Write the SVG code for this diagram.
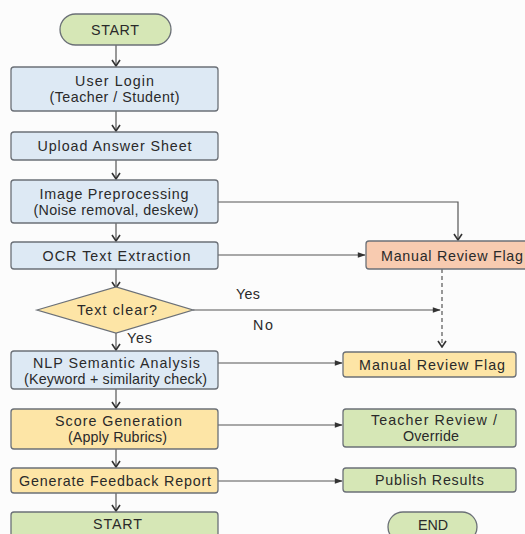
<svg xmlns="http://www.w3.org/2000/svg" width="525" height="534" viewBox="0 0 525 534">
<defs>
<marker id="chev" viewBox="0 0 10 10" refX="9" refY="5" markerWidth="10" markerHeight="10" markerUnits="userSpaceOnUse" orient="auto">
<path d="M3,1 L9,5 L3,9" fill="none" stroke="#333" stroke-width="1.6"/>
</marker>
<marker id="tri" viewBox="0 0 10 10" refX="9" refY="5" markerWidth="9" markerHeight="8" markerUnits="userSpaceOnUse" orient="auto">
<path d="M0,1.5 L10,5 L0,8.5 Z" fill="#333"/>
</marker>
<style>
.box{stroke:#6b7077;stroke-width:1.3}
.blue{fill:#dde9f4}
.yellow{fill:#fde5a6}
.green{fill:#d6e7b6}
.salmon{fill:#f8cbb0}
.t{font-family:"Liberation Sans",Arial,sans-serif;font-size:14.3px;fill:#2a2a2a;text-anchor:middle}
.lbl{font-family:"Liberation Sans",Arial,sans-serif;font-size:14.3px;fill:#2a2a2a}
.c{fill:none;stroke:#555;stroke-width:1.2}
.v{marker-end:url(#chev)}
.h{marker-end:url(#tri)}
</style>
</defs>
<rect width="525" height="534" fill="#fcfcfc"/>
<g id="connectors">
<line class="c v" x1="116" y1="45" x2="116" y2="66"/>
<line class="c v" x1="116" y1="111" x2="116" y2="131"/>
<line class="c v" x1="116" y1="160" x2="116" y2="179"/>
<line class="c v" x1="116" y1="223" x2="116" y2="241"/>
<line class="c v" x1="116" y1="269" x2="116" y2="288"/>
<line class="c v" x1="116" y1="333" x2="116" y2="350"/>
<line class="c v" x1="116" y1="389" x2="116" y2="408"/>
<line class="c v" x1="116" y1="449" x2="116" y2="467"/>
<line class="c v" x1="116" y1="493" x2="116" y2="511"/>
<polyline class="c v" points="218,202 458,202 458,240"/>
<line class="c h" x1="218" y1="255" x2="365" y2="255"/>
<line class="c h" x1="193" y1="310" x2="440" y2="310"/>
<line class="c v" x1="442" y1="269" x2="442" y2="347" stroke-dasharray="4,3"/>
<line class="c h" x1="218" y1="363" x2="342" y2="363"/>
<line class="c h" x1="218" y1="425" x2="342" y2="425"/>
<line class="c h" x1="218" y1="481" x2="342" y2="481"/>
<text class="lbl" x="236" y="299" textLength="24">Yes</text>
<text class="lbl" x="253" y="330" textLength="20">No</text>
<text class="lbl" x="127" y="343" textLength="25">Yes</text>
</g>
<g id="start">
<rect class="box green" x="60" y="14" width="111" height="31" rx="15.5"/>
<text class="t" x="115" y="35" textLength="48">START</text>
</g>
<g id="login">
<rect class="box blue" x="11" y="67" width="207" height="44" rx="3"/>
<text class="t" x="114.5" y="86" textLength="79">User Login</text>
<text class="t" x="114.5" y="102" textLength="130">(Teacher / Student)</text>
</g>
<g id="upload">
<rect class="box blue" x="11" y="132" width="207" height="28" rx="3"/>
<text class="t" x="114.5" y="151" textLength="154">Upload Answer Sheet</text>
</g>
<g id="preprocess">
<rect class="box blue" x="11" y="180" width="207" height="43" rx="3"/>
<text class="t" x="114" y="199" textLength="149">Image Preprocessing</text>
<text class="t" x="116" y="215" textLength="165">(Noise removal, deskew)</text>
</g>
<g id="ocr">
<rect class="box blue" x="11" y="242" width="207" height="27" rx="3"/>
<text class="t" x="116.5" y="261" textLength="148">OCR Text Extraction</text>
</g>
<g id="decision">
<polygon class="box yellow" points="37,310 116,287 193,310 116,333"/>
<text class="t" x="117" y="315" textLength="80">Text clear?</text>
</g>
<g id="nlp">
<rect class="box blue" x="11" y="351" width="207" height="38" rx="3"/>
<text class="t" x="116.5" y="368" textLength="167">NLP Semantic Analysis</text>
<text class="t" x="115.5" y="384" textLength="183">(Keyword + similarity check)</text>
</g>
<g id="score">
<rect class="box yellow" x="11" y="409" width="207" height="40" rx="3"/>
<text class="t" x="118.5" y="426" textLength="127">Score Generation</text>
<text class="t" x="117.5" y="442" textLength="99">(Apply Rubrics)</text>
</g>
<g id="feedback">
<rect class="box yellow" x="11" y="468" width="207" height="25" rx="3"/>
<text class="t" x="115" y="486" textLength="192">Generate Feedback Report</text>
</g>
<g id="start2">
<rect class="box green" x="11" y="512" width="207" height="30" rx="3"/>
<text class="t" x="117.5" y="529" textLength="49">START</text>
</g>
<g id="manual-flag-1">
<rect class="box salmon" x="366" y="241" width="172" height="28" rx="3"/>
<text class="t" x="452" y="261" textLength="142">Manual Review Flag</text>
</g>
<g id="manual-flag-2">
<rect class="box yellow" x="343" y="352" width="173" height="25" rx="3"/>
<text class="t" x="432" y="370" textLength="146">Manual Review Flag</text>
</g>
<g id="teacher-review">
<rect class="box green" x="343" y="409" width="173" height="38" rx="3"/>
<text class="t" x="434" y="425" textLength="126">Teacher Review /</text>
<text class="t" x="431" y="441" textLength="56">Override</text>
</g>
<g id="publish">
<rect class="box green" x="343" y="468" width="173" height="24" rx="3"/>
<text class="t" x="429.5" y="485" textLength="109">Publish Results</text>
</g>
<g id="end">
<rect class="box green" x="388" y="512" width="89" height="30" rx="15"/>
<text class="t" x="433" y="530" textLength="30">END</text>
</g>
</svg>
